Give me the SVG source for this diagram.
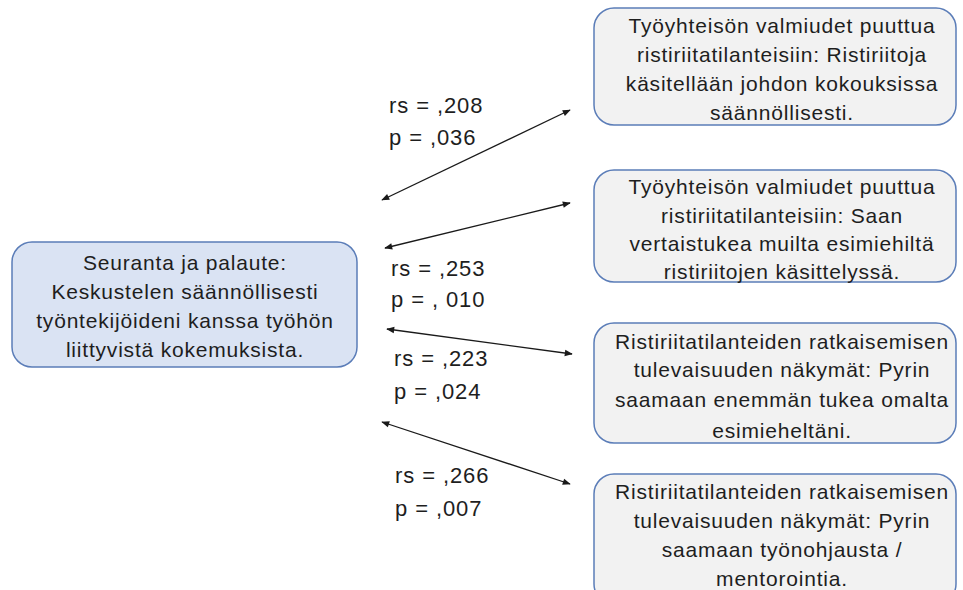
<svg xmlns="http://www.w3.org/2000/svg" width="963" height="590" viewBox="0 0 963 590">
  <defs>
    <marker id="arrow" viewBox="0 0 10 10" refX="9" refY="5" markerWidth="9" markerHeight="8" orient="auto-start-reverse" markerUnits="userSpaceOnUse">
      <path d="M0,1 L10,5 L0,9 z" fill="#1a1a1a"/>
    </marker>
    <style>
      .box-main { fill: #dae3f3; stroke: #5b7db8; stroke-width: 1.5; }
      .box { fill: #f2f2f2; stroke: #5b7db8; stroke-width: 1.5; }
      .t { font-family: "Liberation Sans", Arial, sans-serif; font-size: 21px; letter-spacing: 0.8px; fill: #1e1e1e; text-anchor: middle; }
      .lbl { font-family: "Liberation Sans", Arial, sans-serif; font-size: 22px; letter-spacing: 0.9px; fill: #1e1e1e; }
      .conn { stroke: #1a1a1a; stroke-width: 1.3; fill: none; marker-start: url(#arrow); marker-end: url(#arrow); }
    </style>
  </defs>
  <rect width="963" height="590" fill="#ffffff"/>

  <!-- central node -->
  <g id="seuranta">
    <rect class="box-main" x="12" y="242" width="345" height="125" rx="20"/>
    <text class="t" x="185" y="270">Seuranta ja palaute:</text>
    <text class="t" x="185" y="299">Keskustelen säännöllisesti</text>
    <text class="t" x="185" y="328">työntekijöideni kanssa työhön</text>
    <text class="t" x="185" y="357">liittyvistä kokemuksista.</text>
  </g>

  <!-- outcome nodes -->
  <g id="kokoukset">
    <rect class="box" x="594" y="8" width="362" height="117" rx="20"/>
    <text class="t" x="782" y="33">Työyhteisön valmiudet puuttua</text>
    <text class="t" x="782" y="62">ristiriitatilanteisiin: Ristiriitoja</text>
    <text class="t" x="782" y="91">käsitellään johdon kokouksissa</text>
    <text class="t" x="782" y="120">säännöllisesti.</text>
  </g>
  <g id="vertaistuki">
    <rect class="box" x="594" y="170" width="362" height="112" rx="20"/>
    <text class="t" x="782" y="194">Työyhteisön valmiudet puuttua</text>
    <text class="t" x="782" y="223">ristiriitatilanteisiin: Saan</text>
    <text class="t" x="782" y="251">vertaistukea muilta esimiehiltä</text>
    <text class="t" x="782" y="279">ristiriitojen käsittelyssä.</text>
  </g>
  <g id="tuki">
    <rect class="box" x="594" y="323" width="362" height="120" rx="20"/>
    <text class="t" x="782" y="349">Ristiriitatilanteiden ratkaisemisen</text>
    <text class="t" x="782" y="377">tulevaisuuden näkymät: Pyrin</text>
    <text class="t" x="782" y="407">saamaan enemmän tukea omalta</text>
    <text class="t" x="782" y="438">esimieheltäni.</text>
  </g>
  <g id="tyonohjaus">
    <rect class="box" x="594" y="474" width="362" height="130" rx="20"/>
    <text class="t" x="782" y="499">Ristiriitatilanteiden ratkaisemisen</text>
    <text class="t" x="782" y="528">tulevaisuuden näkymät: Pyrin</text>
    <text class="t" x="782" y="557">saamaan työnohjausta /</text>
    <text class="t" x="782" y="586">mentorointia.</text>
  </g>

  <!-- connectors -->
  <g id="connectors">
    <line class="conn" x1="382" y1="200" x2="570" y2="110"/>
    <line class="conn" x1="385" y1="248" x2="570" y2="203"/>
    <line class="conn" x1="387" y1="329" x2="572" y2="354"/>
    <line class="conn" x1="382" y1="422" x2="570" y2="484"/>
  </g>

  <!-- correlation labels -->
  <g id="labels">
    <text class="lbl" x="389" y="113">rs = ,208</text>
    <text class="lbl" x="389" y="145">p = ,036</text>
    <text class="lbl" x="391" y="276">rs = ,253</text>
    <text class="lbl" x="391" y="307">p = , 010</text>
    <text class="lbl" x="394" y="366">rs = ,223</text>
    <text class="lbl" x="394" y="399">p = ,024</text>
    <text class="lbl" x="395" y="483">rs = ,266</text>
    <text class="lbl" x="395" y="516">p = ,007</text>
  </g>
</svg>
